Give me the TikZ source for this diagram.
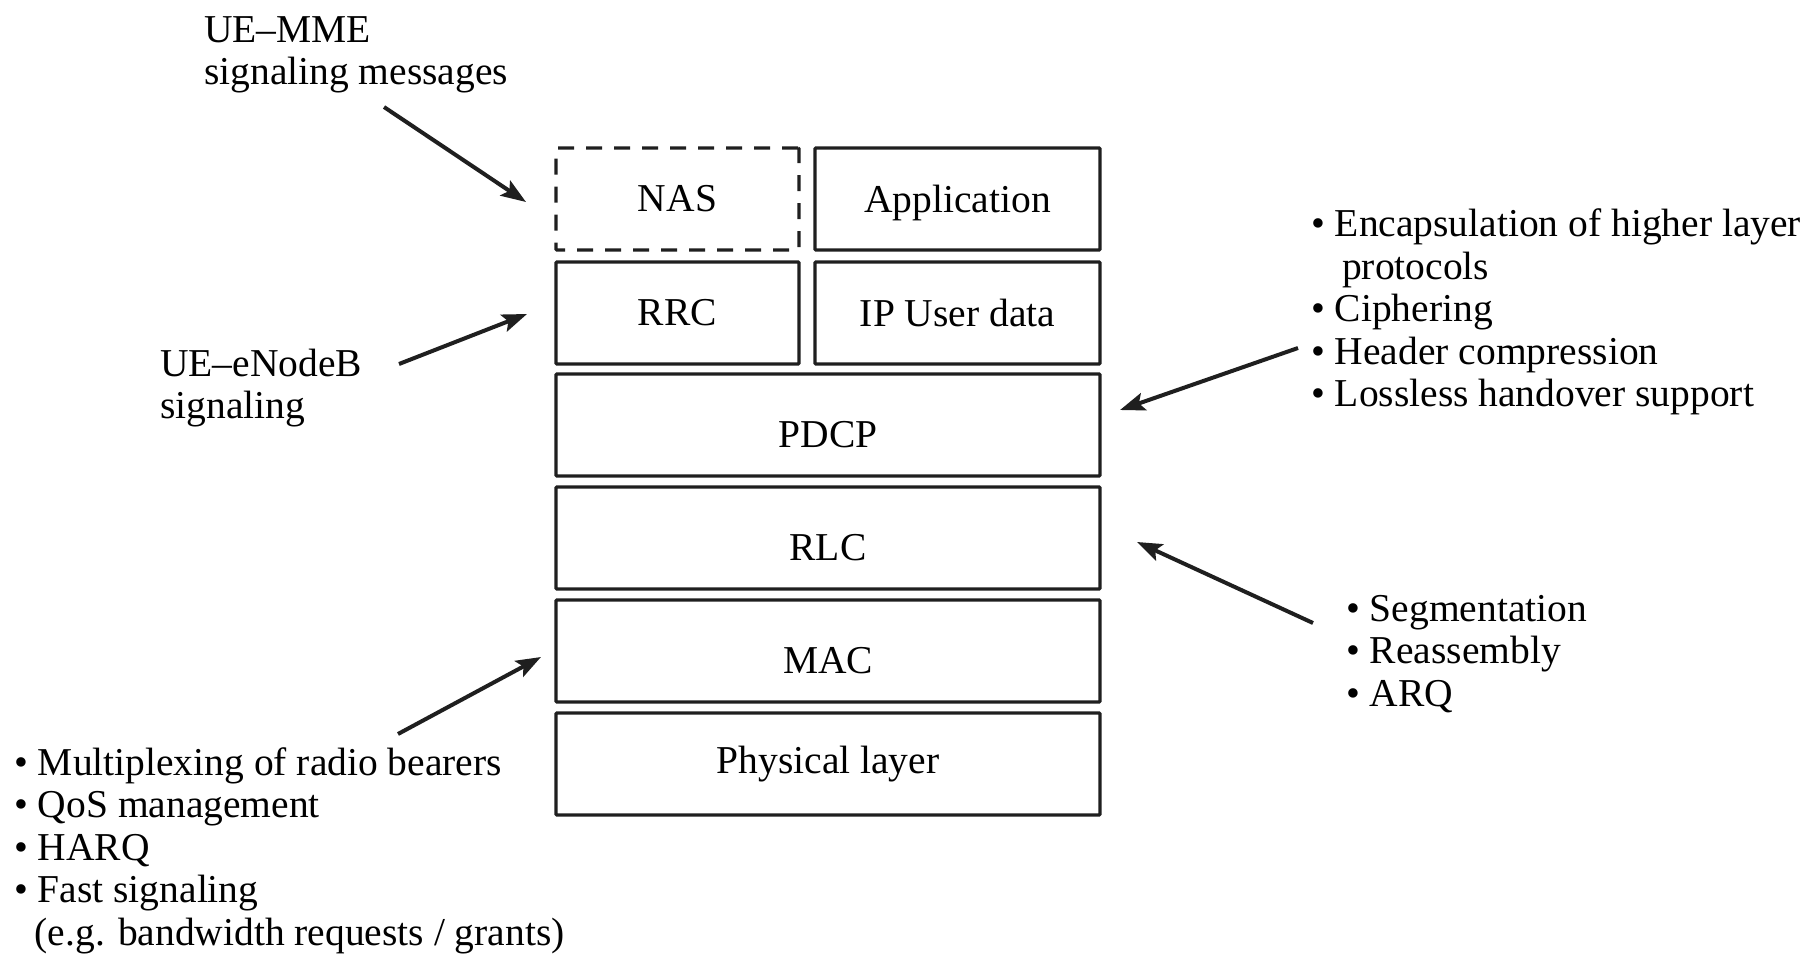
\documentclass[tikz,border=0pt]{standalone}
\usepackage{fontspec}
\setmainfont{Liberation Serif}
\usetikzlibrary{arrows.meta}
\begin{document}
\begin{tikzpicture}[x=1pt,y=-1pt,
  font=\fontsize{39.5}{42.5}\selectfont,
  layer/.style={draw=black!88, line width=3.3pt, minimum height=102pt, inner sep=0pt, rounded corners=1pt},
  wide/.style={layer, minimum width=544pt},
  half/.style={layer, minimum width=243pt},
  halfr/.style={layer, minimum width=285pt},
  lbl/.style={anchor=base west, align=left, inner sep=0pt},
  arr/.style={line width=4pt, draw=black!88, -{Stealth[length=25pt,width=18pt,inset=5pt]}}
]
\useasboundingbox (0,0) rectangle (1806,953);

% protocol stack
\node[half, dashed, dash pattern=on 16pt off 12pt] (nas) at (677.5,199) {NAS};
\node[halfr, text depth=0pt] (app) at (957.5,199) {Application};
\node[half] (rrc) at (677.5,313) {RRC};
\node[halfr] (ip) at (957.5,313) {IP User data};
\node[wide] (pdcp) at (828,425) {\raisebox{-10pt}[\height][\depth]{PDCP}};
\node[wide] (rlc) at (828,538) {\raisebox{-10pt}[\height][\depth]{RLC}};
\node[wide] (mac) at (828,651) {\raisebox{-10pt}[\height][\depth]{MAC}};
\node[wide] (phy) at (828,764) {Physical layer};

% annotations (anchor = baseline of last line)
\node[lbl] (mme) at (204,84.5) {UE--MME\\signaling messages};
\node[lbl] (enb) at (160,418.5) {UE--eNodeB\\signaling};
\node[lbl] (pdcpt) at (1311,406.5) {\textbullet\ Encapsulation of higher layer\\\hspace*{31pt}protocols\\\textbullet\ Ciphering\\\textbullet\ Header compression\\\textbullet\ Lossless handover support};
\node[lbl] (rlct) at (1346,706) {\textbullet\ Segmentation\\\textbullet\ Reassembly\\\textbullet\ ARQ};
\node[lbl] (mact) at (14,945) {\textbullet\ Multiplexing of radio bearers\\\textbullet\ QoS management\\\textbullet\ HARQ\\\textbullet\ Fast signaling\\\hspace*{20.5pt}(e.g. bandwidth requests / grants)};

% arrow ends
\coordinate (a1s) at (384,107);  \coordinate (a1e) at (526,202);
\coordinate (a2s) at (399,364);  \coordinate (a2e) at (527,314);
\coordinate (a3s) at (1298,348); \coordinate (a3e) at (1120,410);
\coordinate (a4s) at (1313,623); \coordinate (a4e) at (1137,542);
\coordinate (a5s) at (398,734);  \coordinate (a5e) at (541,657);

\draw[arr] (a1s) -- (a1e);
\draw[arr] (a2s) -- (a2e);
\draw[arr] (a3s) -- (a3e);
\draw[arr] (a4s) -- (a4e);
\draw[arr] (a5s) -- (a5e);
\end{tikzpicture}
\end{document}
